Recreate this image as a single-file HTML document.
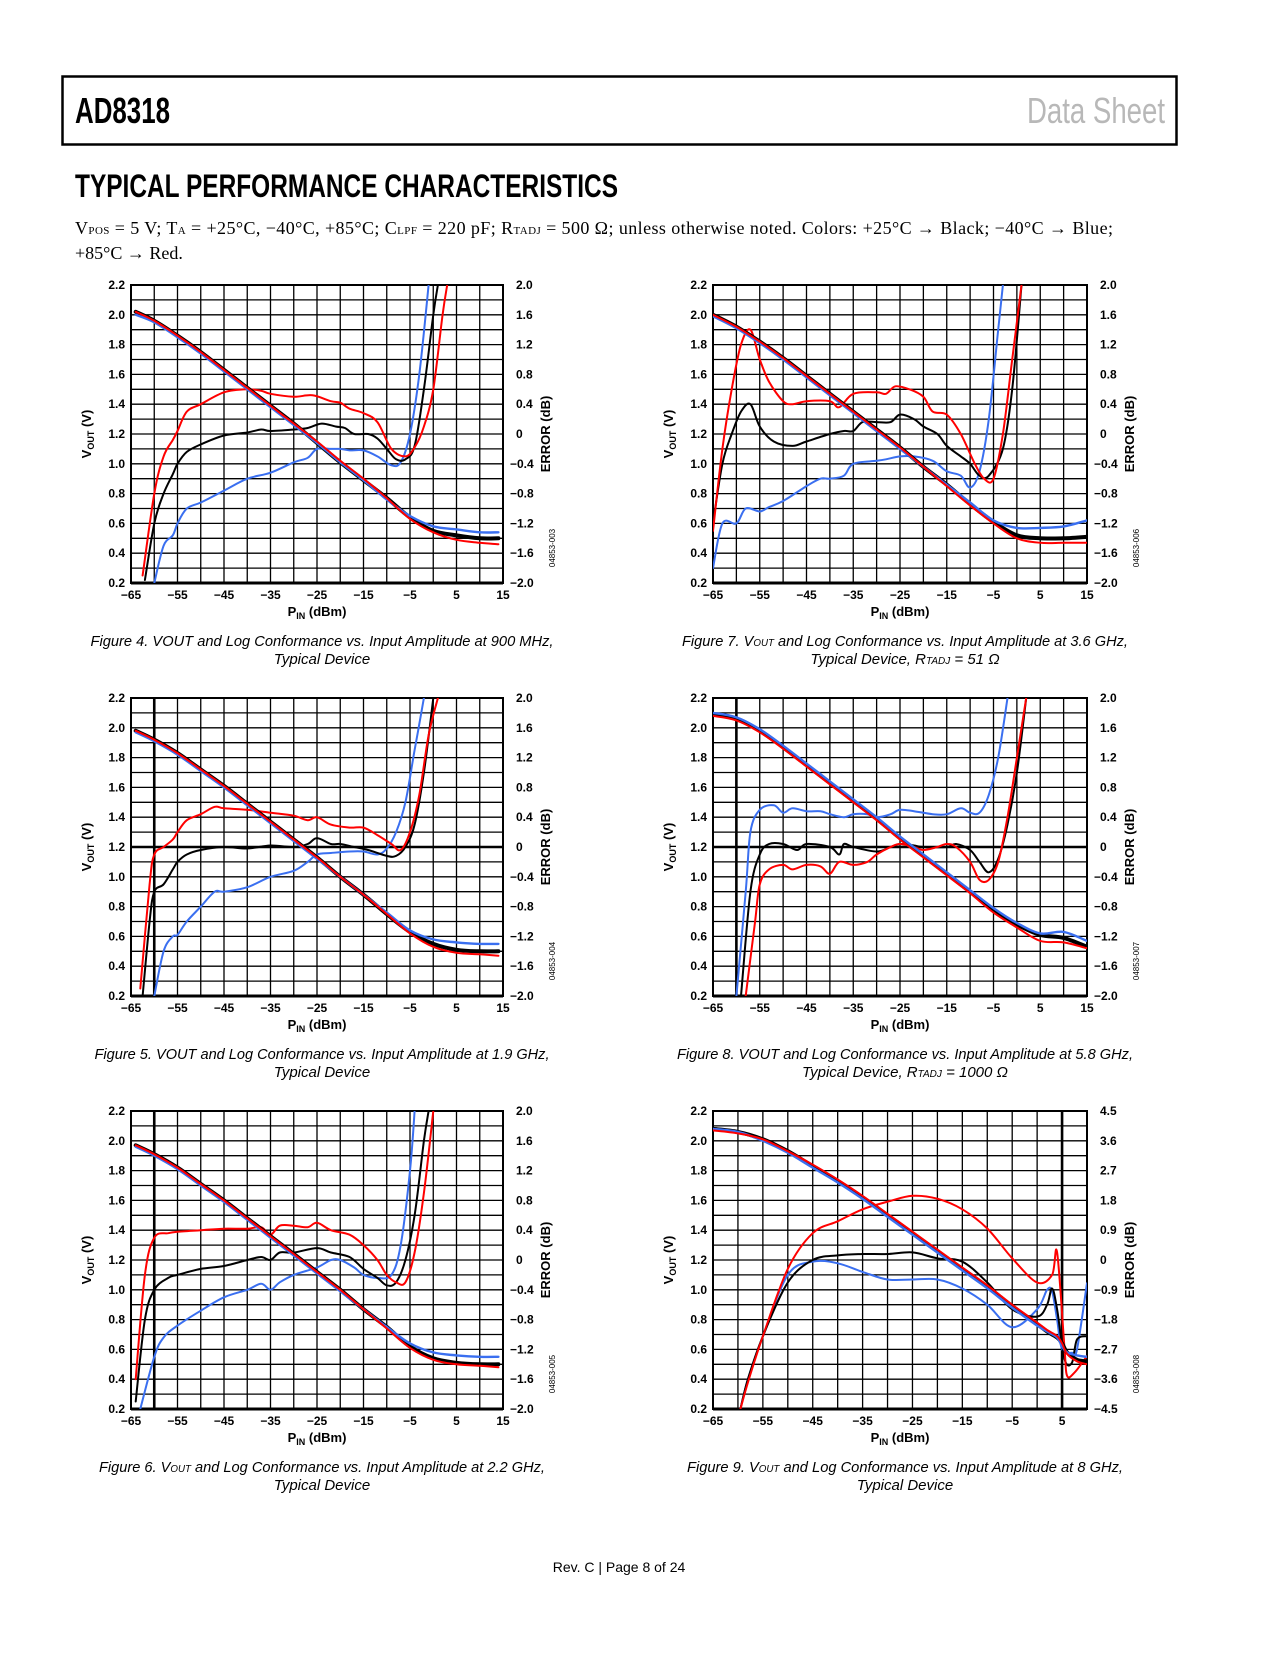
<!DOCTYPE html>
<html><head><meta charset="utf-8"><style>
html,body{margin:0;padding:0;background:#fff;}
svg text{font-family:"Liberation Sans",sans-serif;}
</style></head><body>
<svg id="page" width="1275" height="1650" viewBox="0 0 1275 1650" xmlns="http://www.w3.org/2000/svg">
<rect x="0" y="0" width="1275" height="1650" fill="#fff"/>
<g>
<rect x="62.5" y="76.5" width="1114" height="68" fill="none" stroke="#000" stroke-width="2.5"/>
<text x="75" y="123" font-size="36" font-weight="bold" textLength="95" lengthAdjust="spacingAndGlyphs">AD8318</text>
<text x="1027" y="123" font-size="36" fill="#b8b8b8" textLength="138" lengthAdjust="spacingAndGlyphs">Data Sheet</text>
</g>
<text x="75" y="197" font-size="32" font-weight="bold" textLength="543" lengthAdjust="spacingAndGlyphs">TYPICAL PERFORMANCE CHARACTERISTICS</text>
<g font-size="18">
<text x="75" y="234" style="font-family:'Liberation Serif',serif" textLength="1038" lengthAdjust="spacing">V<tspan font-size="11">POS</tspan> = 5 V; T<tspan font-size="11">A</tspan> = +25°C, −40°C, +85°C; C<tspan font-size="11">LPF</tspan> = 220 pF; R<tspan font-size="11">TADJ</tspan> = 500 Ω; unless otherwise noted. Colors: +25°C → Black; −40°C → Blue;</text>
<text x="75" y="259" style="font-family:'Liberation Serif',serif">+85°C → Red.</text>
</g>
<g id="charts"></g>
<text x="619" y="1572" text-anchor="middle" font-size="14">Rev. C | Page 8 of 24</text>
</svg>
<script>
// ---------- data (PIN dBm, VOUT V, error dB) ----------
const f4_vx=[-64,-60,-55,-50,-45,-40,-35,-30,-25,-20,-15,-10,-5,0,5,10,14];
const f4_vk=[2.02,1.96,1.86,1.75,1.63,1.51,1.39,1.27,1.14,1.01,0.89,0.77,0.64,0.55,0.52,0.50,0.50];
const f4_vb=[2.00,1.95,1.85,1.74,1.62,1.50,1.38,1.26,1.14,1.01,0.89,0.76,0.65,0.58,0.56,0.54,0.54];
const f4_vr=[2.02,1.96,1.86,1.75,1.63,1.51,1.39,1.27,1.15,1.02,0.90,0.77,0.63,0.54,0.49,0.47,0.46];
const f4_ekx=[-62,-60,-58,-56,-55,-53,-50,-45,-40,-37,-35,-30,-27,-24,-21,-19,-17,-14,-12,-10,-8,-6,-4,-2,0,1];
const f4_ek=[-1.96,-1.2,-0.8,-0.54,-0.4,-0.24,-0.14,-0.02,0.02,0.06,0.04,0.06,0.08,0.14,0.1,0.08,0,0,-0.06,-0.2,-0.34,-0.34,-0.16,0.6,1.6,2.0];
const f4_erx=[-62.5,-60,-58,-56,-55,-53,-50,-45,-40,-37,-35,-30,-26,-22,-20,-18,-15,-12,-9,-6,-4,-2,0,2,3];
const f4_er=[-1.9,-0.8,-0.3,-0.08,0.04,0.3,0.4,0.56,0.6,0.58,0.54,0.5,0.52,0.44,0.42,0.34,0.28,0.16,-0.2,-0.3,-0.18,0.1,0.6,1.6,2.0];
const f4_ebx=[-60,-58,-56,-55,-53,-50,-45,-40,-35,-30,-27,-25,-22,-20,-18,-15,-12,-9,-7,-5,-3,-1];
const f4_eb=[-2.0,-1.5,-1.36,-1.2,-1.0,-0.92,-0.76,-0.6,-0.52,-0.38,-0.32,-0.2,-0.2,-0.2,-0.22,-0.22,-0.3,-0.42,-0.38,0.0,0.8,2.0];

const f5_vx=[-64,-60,-55,-50,-45,-40,-35,-30,-25,-20,-15,-10,-5,0,5,10,14];
const f5_vk=[1.98,1.92,1.83,1.72,1.61,1.49,1.37,1.25,1.13,1.00,0.88,0.75,0.63,0.55,0.51,0.50,0.50];
const f5_vb=[1.97,1.91,1.82,1.71,1.60,1.48,1.36,1.24,1.12,1.00,0.88,0.76,0.64,0.58,0.56,0.55,0.55];
const f5_vr=[1.98,1.92,1.83,1.72,1.61,1.49,1.37,1.25,1.13,1.00,0.88,0.75,0.62,0.53,0.49,0.48,0.47];
const f5_ekx=[-62.5,-61,-60,-58,-56,-55,-53,-50,-45,-40,-35,-30,-27,-25,-22,-20,-17,-14,-10,-8,-6,-4,-2,0];
const f5_ek=[-2.0,-1.0,-0.6,-0.5,-0.3,-0.2,-0.1,-0.04,0,-0.02,0.02,0,0.04,0.12,0.04,0.04,0,-0.04,-0.12,-0.12,0,0.3,1.0,2.0];
const f5_erx=[-63,-61,-60,-58,-56,-55,-53,-50,-47,-45,-40,-35,-30,-27,-25,-22,-18,-15,-12,-9,-7,-5,-3,-1,1];
const f5_er=[-1.9,-0.5,-0.1,0,0.1,0.2,0.36,0.44,0.54,0.52,0.5,0.46,0.42,0.36,0.4,0.3,0.26,0.26,0.16,0.04,-0.04,0.2,0.7,1.5,2.0];
const f5_ebx=[-60,-58,-56,-55,-53,-50,-47,-45,-40,-35,-30,-27,-25,-22,-18,-15,-12,-10,-8,-6,-4,-2];
const f5_eb=[-2.0,-1.4,-1.2,-1.18,-1.0,-0.8,-0.6,-0.6,-0.54,-0.4,-0.32,-0.2,-0.1,-0.08,-0.06,-0.06,-0.1,-0.02,0.2,0.6,1.3,2.0];

const f6_vx=[-64,-60,-55,-50,-45,-40,-35,-30,-25,-20,-15,-10,-5,0,5,10,14];
const f6_vk=[1.97,1.91,1.82,1.71,1.60,1.48,1.36,1.24,1.12,1.00,0.87,0.75,0.62,0.54,0.51,0.50,0.50];
const f6_vb=[1.96,1.90,1.81,1.70,1.59,1.47,1.35,1.23,1.11,0.99,0.87,0.75,0.64,0.58,0.56,0.55,0.55];
const f6_vr=[1.97,1.91,1.82,1.71,1.60,1.48,1.36,1.24,1.12,1.00,0.87,0.74,0.61,0.53,0.50,0.49,0.48];
const f6_ekx=[-64,-62,-60,-57,-55,-50,-45,-40,-37,-35,-33,-30,-25,-22,-18,-15,-12,-10,-8,-6,-4,-2,-1];
const f6_ek=[-1.9,-0.8,-0.4,-0.24,-0.2,-0.12,-0.08,0,0.04,0,0.1,0.1,0.16,0.1,0.04,-0.12,-0.24,-0.34,-0.3,0,0.6,1.6,2.0];
const f6_erx=[-64,-62,-60,-57,-55,-50,-45,-40,-37,-35,-33,-30,-27,-25,-22,-18,-15,-12,-10,-8,-6,-4,-2,0];
const f6_er=[-1.6,-0.2,0.3,0.36,0.38,0.4,0.42,0.42,0.44,0.34,0.46,0.46,0.44,0.5,0.4,0.34,0.2,0,-0.2,-0.3,-0.3,0.1,0.9,2.0];
const f6_ebx=[-63,-60,-58,-55,-50,-45,-40,-37,-35,-33,-30,-25,-22,-20,-17,-15,-12,-9,-7,-5,-4];
const f6_eb=[-2.0,-1.3,-1.04,-0.88,-0.68,-0.5,-0.4,-0.32,-0.4,-0.3,-0.2,-0.1,0,0,-0.1,-0.2,-0.24,-0.2,0.2,1.2,2.0];

const f7_vx=[-65,-60,-55,-50,-45,-40,-35,-30,-25,-20,-15,-10,-5,0,5,10,15];
const f7_vk=[2.00,1.92,1.82,1.71,1.59,1.47,1.35,1.23,1.11,0.98,0.86,0.73,0.61,0.52,0.50,0.50,0.51];
const f7_vb=[1.99,1.91,1.81,1.70,1.58,1.46,1.34,1.22,1.10,0.98,0.86,0.74,0.62,0.57,0.57,0.58,0.62];
const f7_vr=[2.00,1.92,1.82,1.71,1.59,1.47,1.35,1.23,1.11,0.98,0.85,0.72,0.60,0.50,0.47,0.47,0.47];
const f7_ekx=[-65,-63,-61,-59,-57,-55,-52,-48,-45,-40,-37,-35,-33,-30,-27,-25,-22,-20,-17,-15,-12,-10,-8,-6,-3,-1,1];
const f7_ek=[-1.2,-0.4,0,0.3,0.4,0.1,-0.1,-0.16,-0.1,0,0.04,0.04,0.16,0.16,0.16,0.26,0.2,0.1,0,-0.16,-0.3,-0.4,-0.56,-0.56,-0.2,0.6,2.0];
const f7_erx=[-65,-63,-61,-59,-57,-55,-53,-50,-48,-45,-40,-38,-35,-30,-28,-26,-23,-20,-18,-15,-12,-9,-7,-5,-3,-1,1];
const f7_er=[-1.3,-0.2,0.6,1.2,1.4,1.0,0.7,0.44,0.4,0.44,0.44,0.36,0.54,0.56,0.54,0.64,0.6,0.5,0.3,0.26,0,-0.4,-0.6,-0.6,0,1.0,2.0];
const f7_ebx=[-65,-63,-60,-58,-55,-53,-50,-45,-42,-40,-37,-35,-30,-28,-25,-22,-18,-15,-12,-10,-8,-6,-4,-3];
const f7_eb=[-1.8,-1.2,-1.2,-1.0,-1.04,-0.98,-0.9,-0.7,-0.6,-0.6,-0.56,-0.4,-0.36,-0.34,-0.3,-0.3,-0.36,-0.5,-0.56,-0.72,-0.5,0.2,1.4,2.0];

const f8_vx=[-65,-60,-55,-50,-45,-40,-35,-30,-25,-20,-15,-10,-5,0,5,10,15];
const f8_vk=[2.09,2.06,1.98,1.87,1.75,1.63,1.51,1.39,1.26,1.14,1.02,0.90,0.78,0.68,0.61,0.59,0.53];
const f8_vb=[2.10,2.07,1.99,1.88,1.76,1.64,1.52,1.40,1.27,1.15,1.03,0.91,0.79,0.69,0.62,0.63,0.57];
const f8_vr=[2.08,2.05,1.97,1.86,1.74,1.62,1.50,1.38,1.25,1.13,1.01,0.89,0.76,0.66,0.57,0.56,0.52];
const f8_ekx=[-59,-57,-55,-53,-50,-47,-45,-40,-38,-37,-35,-30,-27,-25,-22,-20,-15,-13,-10,-8,-6,-4,-2,0,2];
const f8_ek=[-2.0,-0.6,-0.1,0.04,0.04,-0.04,0.04,0,-0.1,0.04,0,-0.06,0,0.04,0.02,0,0,0.04,-0.04,-0.2,-0.34,-0.16,0.3,1.0,2.0];
const f8_erx=[-58,-56,-55,-53,-50,-48,-45,-42,-40,-38,-35,-32,-30,-27,-25,-22,-20,-17,-15,-13,-10,-8,-6,-4,-2,0,2];
const f8_er=[-2.0,-1.0,-0.5,-0.3,-0.24,-0.3,-0.24,-0.26,-0.36,-0.2,-0.24,-0.2,-0.1,0,0.04,0,-0.04,0,0.04,0,-0.2,-0.44,-0.44,-0.2,0.4,1.2,2.0];
const f8_ebx=[-60,-58,-57,-55,-52,-50,-48,-45,-42,-40,-37,-35,-32,-30,-27,-25,-22,-18,-15,-12,-10,-8,-6,-4,-2];
const f8_eb=[-2.0,-0.6,0.2,0.5,0.56,0.46,0.52,0.48,0.48,0.44,0.4,0.44,0.44,0.4,0.44,0.5,0.48,0.44,0.44,0.52,0.46,0.46,0.7,1.2,2.0];

const f9_vx=[-65,-60,-55,-50,-45,-40,-35,-30,-25,-20,-15,-10,-5,0,2,4,5,6,8,10];
const f9_vk=[2.08,2.06,2.01,1.93,1.83,1.73,1.62,1.50,1.38,1.26,1.14,1.02,0.89,0.77,0.72,0.68,0.64,0.58,0.53,0.52];
const f9_vb=[2.08,2.06,2.00,1.92,1.82,1.72,1.61,1.49,1.37,1.25,1.13,1.01,0.88,0.76,0.72,0.68,0.62,0.58,0.56,0.55];
const f9_vr=[2.07,2.05,2.01,1.93,1.84,1.74,1.63,1.51,1.39,1.27,1.15,1.03,0.90,0.78,0.73,0.69,0.64,0.57,0.52,0.50];
const f9_ekx=[-59.5,-58,-55,-50,-45,-40,-35,-30,-25,-20,-15,-10,-5,0,2,3,4,5.5,7,8,10];
const f9_ek=[-4.5,-3.6,-2.3,-0.68,0,0.14,0.18,0.18,0.23,0.05,-0.05,-0.68,-1.49,-1.71,-1.35,-0.86,-1.49,-3.0,-3.1,-2.4,-2.3];
const f9_erx=[-59.5,-58,-55,-50,-45,-40,-35,-30,-25,-20,-15,-10,-5,0,3,4,5.5,6,7.5,10];
const f9_er=[-4.5,-3.7,-2.3,-0.27,0.81,1.17,1.53,1.76,1.94,1.85,1.53,0.95,0.05,-0.68,-0.45,0.23,-2.7,-3.5,-3.4,-2.9];
const f9_ebx=[-59.5,-58,-55,-50,-45,-40,-35,-30,-25,-20,-15,-10,-5,0,2,3,4,5,7,8,10];
const f9_eb=[-4.5,-3.6,-2.3,-0.45,-0.05,-0.1,-0.36,-0.59,-0.59,-0.59,-0.86,-1.35,-2.03,-1.49,-0.9,-0.95,-1.8,-2.7,-2.8,-2.7,-0.7];

const leftTicks=['2.2','2.0','1.8','1.6','1.4','1.2','1.0','0.8','0.6','0.4','0.2'];
const rightTicksA=['2.0','1.6','1.2','0.8','0.4','0','−0.4','−0.8','−1.2','−1.6','−2.0'];
const rightTicksB=['4.5','3.6','2.7','1.8','0.9','0','−0.9','−1.8','−2.7','−3.6','−4.5'];
const xTicksA=['−65','−55','−45','−35','−25','−15','−5','5','15'];
const xTicksB=['−65','−55','−45','−35','−25','−15','−5','5'];

const NS='http://www.w3.org/2000/svg';
function mk(tag,attrs,parent){const e=document.createElementNS(NS,tag);for(const k in attrs)e.setAttribute(k,attrs[k]);if(parent)parent.appendChild(e);return e;}
function smooth(pts){if(pts.length<2)return '';let d='M'+pts[0][0].toFixed(1)+','+pts[0][1].toFixed(1);
for(let i=0;i<pts.length-1;i++){const p0=pts[Math.max(0,i-1)],p1=pts[i],p2=pts[i+1],p3=pts[Math.min(pts.length-1,i+2)];
const c1x=p1[0]+(p2[0]-p0[0])/6,c1y=p1[1]+(p2[1]-p0[1])/6,c2x=p2[0]-(p3[0]-p1[0])/6,c2y=p2[1]-(p3[1]-p1[1])/6;
d+=' C'+c1x.toFixed(1)+','+c1y.toFixed(1)+' '+c2x.toFixed(1)+','+c2y.toFixed(1)+' '+p2[0].toFixed(1)+','+p2[1].toFixed(1);}return d;}

const root=document.getElementById('charts');
let clipId=0;
function chart(c){
  const g=mk('g',{},root);
  
  
  const L=c.x,T=c.y,W=c.w,H=c.h,R=L+W,B=T+H;
  const nx=(c.xmax-c.xmin)/5;
  const xs=v=>L+(v-c.xmin)/(c.xmax-c.xmin)*W;
  const ys=v=>T+(2.2-v)/2.0*H;
  const es=v=>T+(c.emax-v)/(2*c.emax)*H;
  const grid=mk('g',{stroke:'#000','stroke-width':1.3},g);
  
  
  for(let i=1;i<nx;i++){const X=L+i*W/nx;const v=c.xmin+i*5;mk('line',{x1:X,y1:T,x2:X,y2:B,'stroke-width':(v===c.boldX)?2.6:1.3},grid);}
  for(let j=1;j<20;j++){const Y=T+j*H/20;mk('line',{x1:L,y1:Y,x2:R,y2:Y,'stroke-width':(c.boldY&&j===10)?2.6:1.3},grid);}
  const frame=mk('rect',{x:L,y:T,width:W,height:H,fill:'none',stroke:'#000','stroke-width':2},g);
  
  
  mk('line',{x1:L,y1:B,x2:R,y2:B,stroke:'#000','stroke-width':3},g);
  const lt=mk('g',{'font-size':12,'font-weight':'bold','text-anchor':'end'},g);
  
  
  leftTicks.forEach((t,i)=>{const e=mk('text',{x:L-6,y:T+i*H/10+4},lt);e.textContent=t;});
  const rt=mk('g',{'font-size':12,'font-weight':'bold'},g);
  
  
  c.rticks.forEach((t,i)=>{const e=mk('text',{x:R+7+(t[0]==='−'?0:6),y:T+i*H/10+4},rt);e.textContent=t;});
  const xt=mk('g',{'font-size':12,'font-weight':'bold','text-anchor':'middle'},g);
  
  
  c.xticks.forEach((t,i)=>{const e=mk('text',{x:L+i*10*W/(c.xmax-c.xmin),y:B+16},xt);e.textContent=t;});
  const xl=mk('text',{x:L+W/2,y:B+33,'font-size':13,'font-weight':'bold','text-anchor':'middle'},g);
  
  
  xl.innerHTML='P<tspan font-size="9" dy="3">IN</tspan><tspan dy="-3"> (dBm)</tspan>';
  const yl=mk('text',{x:0,y:0,'font-size':13,'font-weight':'bold','text-anchor':'middle',transform:`translate(${L-40},${T+H/2}) rotate(-90)`},g);
  
  
  yl.innerHTML='V<tspan font-size="9" dy="3">OUT</tspan><tspan dy="-3"> (V)</tspan>';
  const el=mk('text',{x:0,y:0,'font-size':13,'font-weight':'bold','text-anchor':'middle',transform:`translate(${R+47},${T+H/2}) rotate(-90)`},g);
  
  
  el.textContent='ERROR (dB)';
  const id=mk('text',{x:0,y:0,'font-size':8,'text-anchor':'middle',transform:`translate(${R+52},${B-35}) rotate(-90)`},g);
  
  
  id.textContent=c.fid;
  clipId++;
  const cp=mk('clipPath',{id:'cp'+clipId},g);
  mk('rect',{x:L,y:T,width:W,height:H},cp);
  const sg=mk('g',{'clip-path':`url(#cp${clipId})`,fill:'none','stroke-linejoin':'round','stroke-linecap':'round'},g);
  function line(xa,ya,scale,color,wid,nm){const pts=xa.map((v,i)=>[xs(v),scale(ya[i])]);
    const p=mk('path',{d:smooth(pts),stroke:color,'stroke-width':wid},sg);
    
    }
  line(c.ebx,c.eb,es,'#3a6ff0',2,'error-minus40c');
  line(c.ekx,c.ek,es,'#000',2,'error-plus25c');
  line(c.erx,c.er,es,'#f00',2,'error-plus85c');
  line(c.vx,c.vk,ys,'#000',4,'vout-plus25c');
  line(c.vx,c.vb,ys,'#3a6ff0',2.4,'vout-minus40c');
  line(c.vx,c.vr,ys,'#f00',2,'vout-plus85c');
  const cap=mk('g',{'font-size':15,'font-style':'italic','text-anchor':'middle'},g);
  
  
  const cx=L+W/2+5;
  const t1=mk('text',{x:cx,y:B+63,textLength:c.capw,lengthAdjust:'spacingAndGlyphs'},cap);t1.innerHTML=c.cap1;
  const t2=mk('text',{x:cx,y:B+81},cap);t2.innerHTML=c.cap2;
}
const LX=131,RX=713,W=372,H=298;
chart({name:'figure-4-chart',x:LX,y:285,w:W,h:H,xmin:-65,xmax:15,emax:2,rticks:rightTicksA,xticks:xTicksA,fid:'04853-003',capw:463,
 vx:f4_vx,vk:f4_vk,vb:f4_vb,vr:f4_vr,ekx:f4_ekx,ek:f4_ek,erx:f4_erx,er:f4_er,ebx:f4_ebx,eb:f4_eb,
 cap1:'Figure 4. VOUT and Log Conformance vs. Input Amplitude at 900 MHz,',cap2:'Typical Device'});
chart({name:'figure-5-chart',x:LX,y:698,w:W,h:H,xmin:-65,xmax:15,emax:2,boldX:-60,boldY:true,rticks:rightTicksA,xticks:xTicksA,fid:'04853-004',capw:455,
 vx:f5_vx,vk:f5_vk,vb:f5_vb,vr:f5_vr,ekx:f5_ekx,ek:f5_ek,erx:f5_erx,er:f5_er,ebx:f5_ebx,eb:f5_eb,
 cap1:'Figure 5. VOUT and Log Conformance vs. Input Amplitude at 1.9 GHz,',cap2:'Typical Device'});
chart({name:'figure-6-chart',x:LX,y:1111,w:W,h:H,xmin:-65,xmax:15,emax:2,boldX:-60,rticks:rightTicksA,xticks:xTicksA,fid:'04853-005',capw:446,
 vx:f6_vx,vk:f6_vk,vb:f6_vb,vr:f6_vr,ekx:f6_ekx,ek:f6_ek,erx:f6_erx,er:f6_er,ebx:f6_ebx,eb:f6_eb,
 cap1:'Figure 6. V<tspan font-size="10">OUT</tspan> and Log Conformance vs. Input Amplitude at 2.2 GHz,',cap2:'Typical Device'});
chart({name:'figure-7-chart',x:RX,y:285,w:374,h:H,xmin:-65,xmax:15,emax:2,rticks:rightTicksA,xticks:xTicksA,fid:'04853-006',capw:446,
 vx:f7_vx,vk:f7_vk,vb:f7_vb,vr:f7_vr,ekx:f7_ekx,ek:f7_ek,erx:f7_erx,er:f7_er,ebx:f7_ebx,eb:f7_eb,
 cap1:'Figure 7. V<tspan font-size="10">OUT</tspan> and Log Conformance vs. Input Amplitude at 3.6 GHz,',cap2:'Typical Device, R<tspan font-size="10">TADJ</tspan> = 51 Ω'});
chart({name:'figure-8-chart',x:RX,y:698,w:374,h:H,xmin:-65,xmax:15,emax:2,boldX:-60,boldY:true,rticks:rightTicksA,xticks:xTicksA,fid:'04853-007',capw:456,
 vx:f8_vx,vk:f8_vk,vb:f8_vb,vr:f8_vr,ekx:f8_ekx,ek:f8_ek,erx:f8_erx,er:f8_er,ebx:f8_ebx,eb:f8_eb,
 cap1:'Figure 8. VOUT and Log Conformance vs. Input Amplitude at 5.8 GHz,',cap2:'Typical Device, R<tspan font-size="10">TADJ</tspan> = 1000 Ω'});
chart({name:'figure-9-chart',x:RX,y:1111,w:374,h:H,xmin:-65,xmax:10,emax:4.5,boldX:5,rticks:rightTicksB,xticks:xTicksB,fid:'04853-008',capw:436,
 vx:f9_vx,vk:f9_vk,vb:f9_vb,vr:f9_vr,ekx:f9_ekx,ek:f9_ek,erx:f9_erx,er:f9_er,ebx:f9_ebx,eb:f9_eb,
 cap1:'Figure 9. V<tspan font-size="10">OUT</tspan> and Log Conformance vs. Input Amplitude at 8 GHz,',cap2:'Typical Device'});
</script>
</body></html>
